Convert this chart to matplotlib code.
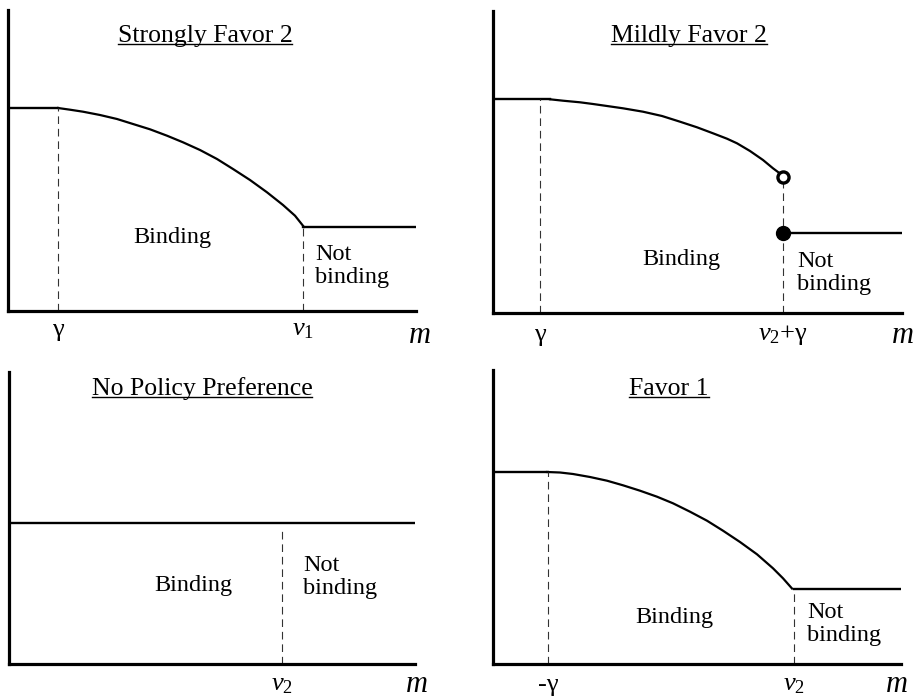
import matplotlib.pyplot as plt
from matplotlib.lines import Line2D

plt.rcParams['font.family'] = ['Liberation Serif', 'DejaVu Serif']
plt.rcParams['mathtext.fontset'] = 'custom'
plt.rcParams['mathtext.rm'] = 'Liberation Serif'
plt.rcParams['mathtext.it'] = 'Liberation Serif:italic'
plt.rcParams['lines.scale_dashes'] = False

W, H = 917, 699

# ---- data (units = pixels measured from each panel's origin) ----
# Strongly Favor 2
sf_curve_x = [50, 62, 75, 92, 109, 125, 142, 159, 175, 192, 209, 225, 242, 259, 275, 287, 296]
sf_curve_y = [203, 201.3, 199.3, 196, 192, 187, 181.7, 175.3, 168.7, 161, 152, 142, 131,
              118.7, 106, 95.3, 84]
sf_high = 203
sf_low = 84
sf_cuts = [50, 295]
sf_ticks = ['γ', r'$v_1$']

# Mildly Favor 2
mf_curve_x = [57, 70, 87, 100, 114, 130, 150, 169, 187, 204, 220, 234, 244, 257, 270, 280, 289]
mf_curve_y = [213.7, 212.3, 210.7, 209, 207, 204.7, 201.3, 197, 191.3, 185.7, 179.7, 174.3,
              169.7, 162, 153, 144.7, 138]
mf_high = 214
mf_low = 80
mf_jump_x = 290
mf_open_y = 136
mf_cuts = [47, 290]
mf_ticks = ['γ', r'$v_2$+γ']

# No Policy Preference
np_level = 141
np_cut = 273
np_ticks = [r'$v_2$']

# Favor 1
f1_curve_x = [54, 67, 80, 97, 114, 130, 147, 164, 180, 197, 214, 230, 247, 264, 280, 290, 299]
f1_curve_y = [192, 191.5, 190, 187, 183.3, 178.7, 173.3, 167.3, 160.7, 152.3, 143.3, 133.3,
              122, 109.7, 95.7, 85.7, 75.5]
f1_high = 192
f1_low = 75
f1_cuts = [55, 301]
f1_ticks = ['-γ', r'$v_2$']

titles = ['Strongly Favor 2', 'Mildly Favor 2', 'No Policy Preference', 'Favor 1']

fig = plt.figure(figsize=(W / 100, H / 100), dpi=100)


def make_panel(ox, oy, right, top):
    w, h = right - ox, oy - top
    ax = fig.add_axes([ox / W, 1 - oy / H, w / W, h / H])
    ax.set_xlim(0, w)
    ax.set_ylim(0, h)
    for s in ['top', 'right']:
        ax.spines[s].set_visible(False)
    for s in ['left', 'bottom']:
        ax.spines[s].set_linewidth(2.3)
    ax.set_xticks([])
    ax.set_yticks([])
    ax.patch.set_alpha(0)
    return ax, w, h


def dash(ax, x, y_top):
    ax.plot([x, x], [0, y_top], color='0.2', lw=0.8, dashes=(5.5, 3.5))


def body_text(ax, bx, by, nx, ny):
    ax.text(bx, by, 'Binding', fontsize=17.5, ha='center', va='center')
    ax.text(nx, ny, 'Not\nbinding', fontsize=17.5, ha='left', va='center',
            linespacing=1.15)


def tick_text(ax, xs, labels, ty, mx, my):
    for x, lab in zip(xs, labels):
        ax.text(x, ty, lab, fontsize=19, ha='center', va='center', clip_on=False)
    ax.text(mx, my, 'm', fontsize=22, style='italic', ha='center', va='baseline',
            clip_on=False)


title_texts = []

# top-left
ax, w, h = make_panel(8, 311, 416, 10)
ax.plot([0, sf_cuts[0]], [sf_high, sf_high], color='k', lw=1.7)
ax.plot(sf_curve_x, sf_curve_y, color='k', lw=1.6, solid_joinstyle='round')
ax.plot([sf_cuts[1], w], [sf_low, sf_low], color='k', lw=1.7)
dash(ax, sf_cuts[0], sf_high)
dash(ax, sf_cuts[1], sf_low)
body_text(ax, 164, 73, 307, 45)
tick_text(ax, sf_cuts, sf_ticks, -19, 412, -32)
title_texts.append(ax.text(197, 269, titles[0], fontsize=18.5, ha='center', va='baseline'))

# top-right
ax, w, h = make_panel(493, 313, 902, 11)
ax.plot([0, mf_curve_x[0]], [mf_high, mf_high], color='k', lw=1.7)
ax.plot(mf_curve_x, mf_curve_y, color='k', lw=1.6, solid_joinstyle='round')
ax.plot([mf_jump_x, w], [mf_low, mf_low], color='k', lw=1.7)
dash(ax, mf_cuts[0], mf_high)
dash(ax, mf_cuts[1], mf_open_y)
ax.plot([mf_jump_x], [mf_open_y], 'o', ms=8, mfc='white', mec='k', mew=2.4, clip_on=False)
ax.plot([mf_jump_x], [mf_low], 'o', ms=10, color='k', clip_on=False)
body_text(ax, 188, 53, 304, 40)
tick_text(ax, mf_cuts, mf_ticks, -22, 410, -30)
title_texts.append(ax.text(196, 271, titles[1], fontsize=18.5, ha='center', va='baseline'))

# bottom-left
ax, w, h = make_panel(9, 664, 415, 372)
ax.plot([0, w], [np_level, np_level], color='k', lw=1.7)
ax.plot([np_cut, np_cut], [0, np_level - 6], color='0.2', lw=0.8, dashes=(5.5, 3.5))
body_text(ax, 184, 79, 294, 87)
tick_text(ax, [np_cut], np_ticks, -21, 408, -28)
title_texts.append(ax.text(193, 269, titles[2], fontsize=18.5, ha='center', va='baseline'))

# bottom-right
ax, w, h = make_panel(493, 664, 901, 370)
ax.plot([0, f1_cuts[0]], [f1_high, f1_high], color='k', lw=1.7)
ax.plot(f1_curve_x, f1_curve_y, color='k', lw=1.6, solid_joinstyle='round')
ax.plot([f1_cuts[1], w], [f1_low, f1_low], color='k', lw=1.7)
dash(ax, f1_cuts[0], f1_high)
dash(ax, f1_cuts[1], f1_low)
body_text(ax, 181, 47, 314, 40)
tick_text(ax, f1_cuts, f1_ticks, -21, 404, -28)
title_texts.append(ax.text(176, 269, titles[3], fontsize=18.5, ha='center', va='baseline'))

# underline the panel titles
fig.canvas.draw()
r = fig.canvas.get_renderer()
for t in title_texts:
    bb = t.get_window_extent(r)
    x_base, y_base = t.get_transform().transform(t.get_position())
    yy = (y_base - 2) / H
    fig.add_artist(Line2D([bb.x0 / W, bb.x1 / W], [yy, yy], color='k', lw=1.0,
                          transform=fig.transFigure))

fig.savefig('out.png', dpi=100)
